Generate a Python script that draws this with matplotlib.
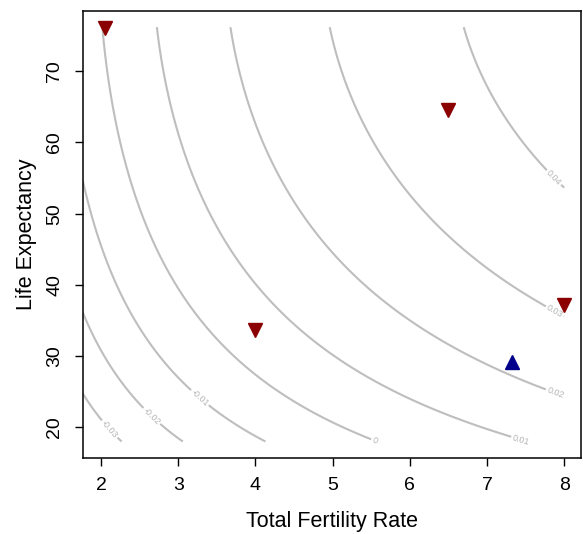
import matplotlib
matplotlib.use("Agg")
import matplotlib.pyplot as plt
import numpy as np

plt.rcParams["font.family"] = ["Liberation Sans", "DejaVu Sans"]
plt.rcParams["contour.negative_linestyle"] = "solid"

# net reproduction per unit of TFR (ffab * survival to mean age of childbearing) by life expectancy
e0_table = [18.0, 25.0, 36.8, 38.6, 47.7, 56.5, 65.3, 76.2]
nrr_per_tfr = [0.179, 0.233, 0.315, 0.328, 0.384, 0.426, 0.468, 0.495]
gen_length = 30.0

levels = [-0.03, -0.02, -0.01, 0.0, 0.01, 0.02, 0.03, 0.04]

# countries: declining (red) and rising (blue)
down_tfr = [2.05, 6.49, 4.0, 8.0]
down_e0 = [76.1, 64.6, 33.7, 37.2]
up_tfr = [7.33]
up_e0 = [29.1]

# label spots along each contour
label_pos = [(2.14, 20.0), (2.65, 21.5), (3.25, 23.8), (5.56, 18.3),
             (7.45, 18.5), (7.88, 24.6), (7.88, 36.3), (7.9, 55.4)]

coef = np.polyfit(e0_table, nrr_per_tfr, 3)
tfr = np.linspace(1.763, 8.0, 300)
e0 = np.linspace(18.0, 76.2, 300)
T, E = np.meshgrid(tfr, e0)
r = np.log(T * np.polyval(coef, E)) / gen_length

fig = plt.figure(figsize=(5.83, 5.34), dpi=100)
ax = fig.add_axes([0.1419, 0.1429, 0.9966 - 0.1419, 0.980 - 0.1429])

cs = ax.contour(T, E, r, levels=levels, colors="#bebebe", linewidths=1.5)
ax.clabel(cs, levels, inline=True, fmt=lambda v: f"{v:g}", fontsize=6.5,
          colors="#b4b4b4", manual=label_pos, inline_spacing=2)

ax.plot(down_tfr, down_e0, "v", color="#8b0000", ms=9.5, mec="#8b0000")
ax.plot(up_tfr, up_e0, "^", color="#00008b", ms=9.5, mec="#00008b")

ax.set_xlim(1.763, 8.218)
ax.set_ylim(15.73, 78.51)
ax.set_xticks([2, 3, 4, 5, 6, 7, 8])
ax.set_yticks([20, 30, 40, 50, 60, 70])
ax.tick_params(length=6, width=1, labelsize=14, pad=8)
for lab in ax.get_yticklabels():
    lab.set_rotation(90)
    lab.set_va("center")
for s in ax.spines.values():
    s.set_linewidth(1.1)

ax.set_xlabel("Total Fertility Rate", fontsize=15.5, labelpad=12)
ax.set_ylabel("Life Expectancy", fontsize=15.5, labelpad=7)

fig.savefig("out.png", dpi=100)
